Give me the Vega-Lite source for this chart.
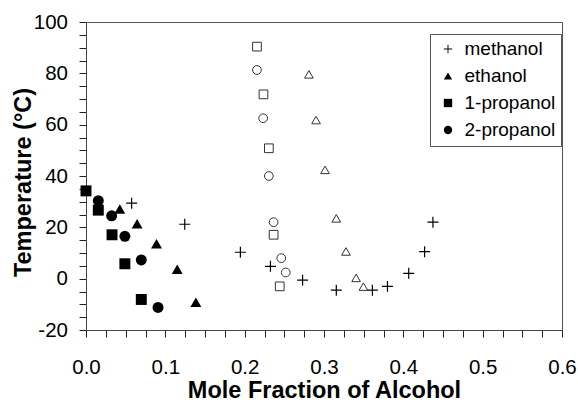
{
  "$schema": "https://vega.github.io/schema/vega-lite/v6.json",
  "width": 476,
  "height": 308,
  "autosize": {"type": "none"},
  "padding": {"left": 86, "top": 22, "right": 16, "bottom": 73},
  "data": {
    "values": [
      {"alcohol": "methanol", "branch": "lower", "x": 0.0575, "T": 29.4},
      {"alcohol": "methanol", "branch": "lower", "x": 0.1245, "T": 21.2},
      {"alcohol": "methanol", "branch": "lower", "x": 0.1946, "T": 10.3},
      {"alcohol": "methanol", "branch": "lower", "x": 0.2325, "T": 4.8},
      {"alcohol": "methanol", "branch": "lower", "x": 0.273, "T": -0.6},
      {"alcohol": "methanol", "branch": "lower", "x": 0.3155, "T": -4.5},
      {"alcohol": "methanol", "branch": "lower", "x": 0.361, "T": -4.5},
      {"alcohol": "methanol", "branch": "lower", "x": 0.380, "T": -3.0},
      {"alcohol": "methanol", "branch": "lower", "x": 0.4068, "T": 2.1},
      {"alcohol": "methanol", "branch": "lower", "x": 0.4268, "T": 10.5},
      {"alcohol": "methanol", "branch": "lower", "x": 0.4373, "T": 22.0},
      {"alcohol": "ethanol", "branch": "lower", "x": 0.0426, "T": 27.1},
      {"alcohol": "ethanol", "branch": "lower", "x": 0.0644, "T": 21.4},
      {"alcohol": "ethanol", "branch": "lower", "x": 0.0889, "T": 13.6},
      {"alcohol": "ethanol", "branch": "lower", "x": 0.115, "T": 3.7},
      {"alcohol": "ethanol", "branch": "lower", "x": 0.1385, "T": -9.2},
      {"alcohol": "ethanol", "branch": "upper", "x": 0.281, "T": 79.6},
      {"alcohol": "ethanol", "branch": "upper", "x": 0.290, "T": 61.8},
      {"alcohol": "ethanol", "branch": "upper", "x": 0.3013, "T": 42.4},
      {"alcohol": "ethanol", "branch": "upper", "x": 0.3155, "T": 23.5},
      {"alcohol": "ethanol", "branch": "upper", "x": 0.3277, "T": 10.6},
      {"alcohol": "ethanol", "branch": "upper", "x": 0.3405, "T": 0.3},
      {"alcohol": "ethanol", "branch": "upper", "x": 0.3497, "T": -3.1},
      {"alcohol": "1-propanol", "branch": "lower", "x": 0.0, "T": 34.2},
      {"alcohol": "1-propanol", "branch": "lower", "x": 0.0155, "T": 26.7},
      {"alcohol": "1-propanol", "branch": "lower", "x": 0.0328, "T": 17.1},
      {"alcohol": "1-propanol", "branch": "lower", "x": 0.049, "T": 5.8},
      {"alcohol": "1-propanol", "branch": "lower", "x": 0.0697, "T": -8.1},
      {"alcohol": "1-propanol", "branch": "upper", "x": 0.2155, "T": 90.4},
      {"alcohol": "1-propanol", "branch": "upper", "x": 0.2237, "T": 71.8},
      {"alcohol": "1-propanol", "branch": "upper", "x": 0.2305, "T": 50.8},
      {"alcohol": "1-propanol", "branch": "upper", "x": 0.2365, "T": 17.1},
      {"alcohol": "1-propanol", "branch": "upper", "x": 0.2442, "T": -3.0},
      {"alcohol": "2-propanol", "branch": "lower", "x": 0.0155, "T": 30.4},
      {"alcohol": "2-propanol", "branch": "lower", "x": 0.0323, "T": 24.5},
      {"alcohol": "2-propanol", "branch": "lower", "x": 0.049, "T": 16.5},
      {"alcohol": "2-propanol", "branch": "lower", "x": 0.0697, "T": 7.3},
      {"alcohol": "2-propanol", "branch": "lower", "x": 0.0908, "T": -11.2},
      {"alcohol": "2-propanol", "branch": "upper", "x": 0.2155, "T": 81.3},
      {"alcohol": "2-propanol", "branch": "upper", "x": 0.2233, "T": 62.5},
      {"alcohol": "2-propanol", "branch": "upper", "x": 0.2305, "T": 40.0},
      {"alcohol": "2-propanol", "branch": "upper", "x": 0.2365, "T": 22.0},
      {"alcohol": "2-propanol", "branch": "upper", "x": 0.2462, "T": 8.0},
      {"alcohol": "2-propanol", "branch": "upper", "x": 0.2518, "T": 2.4}
    ]
  },
  "mark": {"type": "point", "filled": true, "opacity": 1, "strokeWidth": 1},
  "encoding": {
    "x": {
      "field": "x",
      "type": "quantitative",
      "scale": {"domain": [0, 0.6], "nice": false, "zero": false},
      "axis": {
        "title": "Mole Fraction of Alcohol",
        "values": [0, 0.025, 0.05, 0.075, 0.1, 0.125, 0.15, 0.175, 0.2, 0.225, 0.25, 0.275, 0.3, 0.325, 0.35, 0.375, 0.4, 0.425, 0.45, 0.475, 0.5, 0.525, 0.55, 0.575, 0.6],
        "labelExpr": "abs(datum.value * 10 - round(datum.value * 10)) < 0.001 ? format(datum.value, '.1f') : ''",
        "labelOverlap": false,
        "labelFlush": false,
        "labelAlign": "center",
        "labelBaseline": "alphabetic",
        "labelPadding": 36,
        "grid": false,
        "ticks": true,
        "tickColor": "#222",
        "tickWidth": 1,
        "tickSize": 7,
        "tickRound": true,
        "domainColor": "#444",
        "domainWidth": 1,
        "labelColor": "black",
        "labelFontSize": 20.5,
        "titleFontSize": 23.5,
        "titleFontWeight": "bold",
        "titleColor": "black",
        "titleBaseline": "alphabetic",
        "titleY": 67
      }
    },
    "y": {
      "field": "T",
      "type": "quantitative",
      "scale": {"domain": [-20, 100], "nice": false, "zero": false},
      "axis": {
        "title": "Temperature (°C)",
        "values": [-20, -15, -10, -5, 0, 5, 10, 15, 20, 25, 30, 35, 40, 45, 50, 55, 60, 65, 70, 75, 80, 85, 90, 95, 100],
        "labelExpr": "datum.value % 20 === 0 ? '' + datum.value : ''",
        "labelOverlap": false,
        "labelFlush": false,
        "labelPadding": 11.5,
        "grid": false,
        "ticks": true,
        "tickColor": "#222",
        "tickWidth": 1,
        "tickSize": 7,
        "tickRound": true,
        "domainColor": "#444",
        "domainWidth": 1,
        "labelColor": "black",
        "labelFontSize": 20.5,
        "titleFontSize": 23.5,
        "titleFontWeight": "bold",
        "titleColor": "black",
        "titleBaseline": "alphabetic",
        "titleX": -56,
        "titleY": 160
      }
    },
    "shape": {
      "field": "alcohol",
      "type": "nominal",
      "scale": {"domain": ["methanol", "ethanol", "1-propanol", "2-propanol"], "range": ["M-1,-0.11L-0.11,-0.11L-0.11,-1L0.11,-1L0.11,-0.11L1,-0.11L1,0.11L0.11,0.11L0.11,1L-0.11,1L-0.11,0.11L-1,0.11Z", "triangle-up", "square", "circle"]},
      "legend": {"title": null}
    },
    "fill": {
      "field": "branch",
      "type": "nominal",
      "scale": {"domain": ["lower", "upper"], "range": ["black", "transparent"]},
      "legend": null
    },
    "stroke": {
      "field": "branch",
      "type": "nominal",
      "scale": {"domain": ["lower", "upper"], "range": ["transparent", "#333"]},
      "legend": null
    },
    "size": {
      "field": "branch",
      "type": "nominal",
      "scale": {"domain": ["lower", "upper"], "range": [120, 76]},
      "legend": null
    }
  },
  "config": {
    "font": "Liberation Sans",
    "view": {"stroke": "#555", "strokeWidth": 1},
    "legend": {
      "orient": "none",
      "legendX": 344,
      "legendY": 12,
      "strokeColor": "#555",
      "fillColor": "white",
      "padding": 5.5,
      "rowPadding": 7,
      "labelFont": "Liberation Sans",
      "labelFontSize": 19,
      "labelColor": "black",
      "labelOffset": 7,
      "symbolOffset": 3,
      "symbolSize": 70,
      "symbolFillColor": "black",
      "symbolStrokeColor": "transparent"
    }
  }
}
